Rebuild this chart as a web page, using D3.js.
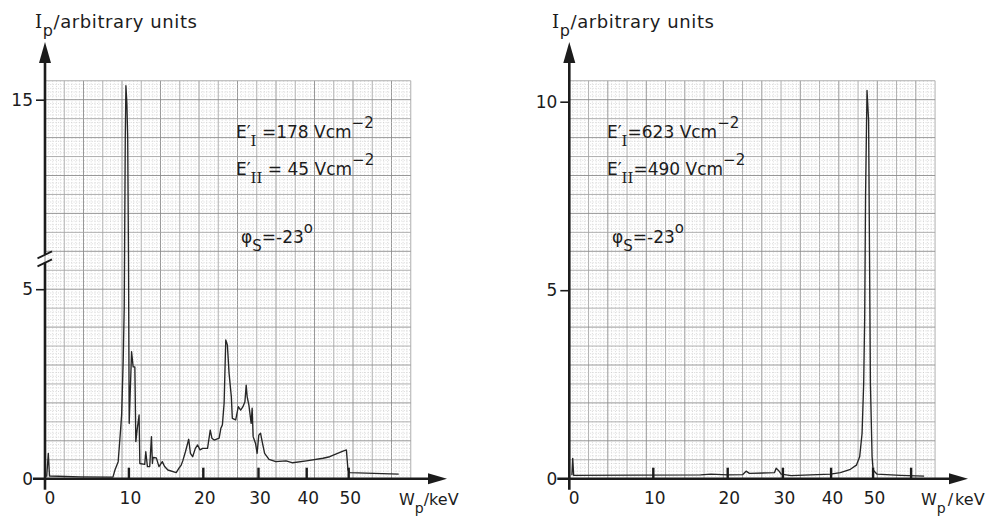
<!DOCTYPE html>
<html>
<head>
<meta charset="utf-8">
<script src="https://cdn.jsdelivr.net/npm/d3@7"></script>
<style>
  body{margin:0;background:#fff;}
  svg{display:block;}
  text{font-family:"DejaVu Sans",sans-serif;fill:#1c1c1c;}
</style>
</head>
<body>
<svg id="chart" width="992" height="516"></svg>
<script>
// energy scale of the spectrometer (not linear), knots in keV
var energyKnots = [0, 10, 20, 30, 40, 50, 60, 64];
var energyTicks = [0, 10, 20, 30, 40, 50];
var markTicksLeft = [10, 20, 30, 40, 50];
var markTicksRight = [10, 20, 30, 40, 50, 60];

var leftYTicks = [0, 5, 15];
var rightYTicks = [0, 5, 10];
var leftBreak = [5.8, 10.8];

var leftEnergy = [-0.2, 0, 0.15, 4, 8.02, 8.27, 8.67, 8.97, 9.1, 9.29, 9.42, 9.55, 9.63, 9.75, 9.85,
  9.95, 10.04, 10.36, 10.57, 10.8, 10.93, 11.1, 11.37, 11.47, 12.13, 12.27, 12.49, 12.8, 13.03, 13.16,
  13.24, 13.69, 14.04, 14.49, 14.8, 15.24, 16.36, 16.71, 17.03, 17.24, 17.6, 18.04, 18.27, 18.57, 18.93,
  19.24, 19.56, 19.91, 20.77, 21.26, 21.56, 21.97, 22.87, 23.18, 23.46, 23.77, 24.07, 24.36, 24.67, 25.08,
  25.26, 25.87, 26.34, 26.77, 27.18, 27.54, 27.77, 27.95, 28.26, 28.67, 28.85, 29.03, 29.46, 29.75, 30.06,
  30.42, 30.76, 31.27, 32.18, 33.59, 35.71, 37.1, 39.94, 43.88, 45.48, 48.64, 49.45, 49.83, 50.26, 63.4];
var leftIntensity = [0.05, 0.67, 0.07, 0.05, 0.04, 0.23, 0.45, 1.3, 1.7, 3.1, 4.5, 14.0, 15.37, 14.9, 14.0,
  6, 1.46, 3.35, 2.95, 2.95, 0.98, 1.28, 1.68, 0.4, 0.38, 0.71, 0.32, 0.32, 1.11, 0.4,
  0.56, 0.55, 0.32, 0.45, 0.32, 0.23, 0.16, 0.27, 0.36, 0.47, 0.71, 1.04, 0.67, 0.58, 0.8,
  0.89, 0.76, 0.8, 0.8, 1.28, 1.07, 1.02, 1.07, 1.33, 1.42, 1.99, 3.66, 3.53, 2.78, 2.16,
  1.59, 1.55, 1.9, 1.81, 1.9, 2.03, 2.47, 2.16, 1.94, 1.46, 1.86, 1.11, 0.93, 0.67, 1.15,
  1.2, 0.98, 0.67, 0.51, 0.45, 0.47, 0.42, 0.47, 0.54, 0.58, 0.73, 0.76, 0.23, 0.16, 0.12];

var rightEnergy = [-0.1, 0, 0.12, 16.36, 17.72, 20, 22.73, 23.33, 23.93, 28.47, 28.78, 29.2, 29.69, 31.69, 39.86,
  42.21, 44.6, 46.02, 46.8, 47.37, 47.76, 48.0, 48.2, 48.55, 48.93, 49.36, 49.76, 50, 51.05, 57.18, 63.7];
var rightIntensity = [0.09, 0.54, 0.09, 0.1, 0.12, 0.1, 0.11, 0.2, 0.14, 0.16, 0.28, 0.22, 0.12, 0.08, 0.12,
  0.16, 0.25, 0.36, 0.58, 1.2, 2.53, 4.3, 7.5, 10.3, 9.5, 2.53, 0.58, 0.23, 0.12, 0.09, 0.07];

var svg = d3.select("#chart");
svg.append("rect").attr("width", 992).attr("height", 516).attr("fill", "#fff");

var dispersion = [0, 80.6, 155, 210.2, 258.4, 300.4, 338.4, 352.5];
var baseY = 478.7;

function makeX(origin){
	return d3.scaleLinear().domain(energyKnots).range(dispersion.map(d => origin + d));
}

function drawPaper(g, x0, cols, rows){
	var cw = 19.25, ch = 18.95;
	var top = baseY - rows * ch, right = x0 + cols * cw;
	d3.range(cols * 5 + 1).forEach(function(i){
		var x = x0 + i * cw / 5;
		var l = g.append("line").attr("x1", x).attr("x2", x).attr("y1", top).attr("y2", baseY);
		if(i % 5 == 0){
			l.attr("stroke", i % 10 == 0 ? "#8c8c8c" : "#a6a6a6").attr("stroke-width", 0.9);
		}else{
			l.attr("stroke", "#c8c8c8").attr("stroke-width", 0.7).attr("stroke-dasharray", "1,1.6");
		}
	});
	d3.range(rows * 5 + 1).forEach(function(i){
		var y = baseY - i * ch / 5;
		var l = g.append("line").attr("y1", y).attr("y2", y).attr("x1", x0).attr("x2", right);
		if(i % 5 == 0){
			l.attr("stroke", i % 10 == 0 ? "#8c8c8c" : "#a6a6a6").attr("stroke-width", 0.9);
		}else{
			l.attr("stroke", "#c8c8c8").attr("stroke-width", 0.7).attr("stroke-dasharray", "1,1.6");
		}
	});
}

function arrowUp(g, x, tipY){
	g.append("path").attr("d", "M" + x + "," + tipY + "L" + (x - 6) + "," + (tipY + 21) + "L" + (x + 6) + "," + (tipY + 21) + "Z")
		.attr("fill", "#1c1c1c");
}
function arrowRight(g, tipX, y){
	g.append("path").attr("d", "M" + tipX + "," + y + "L" + (tipX - 19) + "," + (y - 5.5) + "L" + (tipX - 19) + "," + (y + 5.5) + "Z")
		.attr("fill", "#1c1c1c");
}

// rich text with sub/superscripts, parts: {t, s:"sub"|"sup", serif, dx}
function richText(g, x, y, parts, size){
	var t = g.append("text").attr("x", x).attr("y", y).style("font-size", size + "px");
	var cur = 0;
	parts.forEach(function(p){
		var off = p.s == "sub" ? 8 : (p.s == "sup" ? -10 : 0);
		var sp = t.append("tspan").attr("dy", off - cur).text(p.t);
		if(p.dx) sp.attr("dx", p.dx);
		if(p.s) sp.style("font-size", (size - 2) + "px");
		if(p.serif) sp.style("font-family", "'DejaVu Serif', serif");
		cur = off;
	});
	return t;
}

function drawPanel(opt){
	var g = svg.append("g");
	var x = makeX(opt.origin);
	var y = opt.y;
	drawPaper(g, opt.axisX, 19, 21);

	// curve
	var pts = opt.energy.map((e, i) => [e, opt.intensity[i]]);
	g.append("path").datum(pts)
		.attr("d", d3.line().x(d => x(d[0])).y(d => y(d[1])))
		.attr("fill", "none").attr("stroke", "#262626").attr("stroke-width", 1.35).attr("stroke-linejoin", "round");

	// x axis
	g.append("line").attr("x1", opt.axisX - 12).attr("x2", opt.arrowX - 15).attr("y1", baseY).attr("y2", baseY)
		.attr("stroke", "#1c1c1c").attr("stroke-width", 2.6);
	arrowRight(g, opt.arrowX, baseY);
	opt.marks.forEach(function(m){
		g.append("line").attr("x1", x(m)).attr("x2", x(m)).attr("y1", baseY).attr("y2", baseY - 11)
			.attr("stroke", "#1c1c1c").attr("stroke-width", 2.4);
	});
	var xa = g.append("g").attr("transform", "translate(0," + baseY + ")")
		.call(d3.axisBottom(x).tickValues(energyTicks).tickSize(0).tickFormat(d3.format("d")));
	xa.select(".domain").remove();
	xa.selectAll("text").attr("y", 13).attr("dx", 1).style("font-size", "17px").style("font-family", "'DejaVu Sans', sans-serif").attr("fill", "#1c1c1c");

	// y axis
	if(opt.breakAt){
		var yb = y(opt.breakAt[0]);
		g.append("line").attr("x1", opt.axisX).attr("x2", opt.axisX).attr("y1", 62).attr("y2", yb - 4.5)
			.attr("stroke", "#1c1c1c").attr("stroke-width", 2.6);
		g.append("line").attr("x1", opt.axisX).attr("x2", opt.axisX).attr("y1", yb + 3.5).attr("y2", baseY + 11)
			.attr("stroke", "#1c1c1c").attr("stroke-width", 2.6);
		[-4, 4].forEach(function(o){
			g.append("line").attr("x1", opt.axisX - 7.5).attr("x2", opt.axisX + 7).attr("y1", yb + o + 3.5).attr("y2", yb + o - 3.5)
				.attr("stroke", "#1c1c1c").attr("stroke-width", 1.8);
		});
	}else{
		g.append("line").attr("x1", opt.axisX).attr("x2", opt.axisX).attr("y1", 62).attr("y2", baseY + 11)
			.attr("stroke", "#1c1c1c").attr("stroke-width", 2.6);
	}
	arrowUp(g, opt.axisX, 42);
	var ya = g.append("g").attr("transform", "translate(" + opt.axisX + ",0)")
		.call(d3.axisLeft(y).tickValues(opt.yTicks).tickSize(9).tickPadding(3).tickFormat(d3.format("d")));
	ya.select(".domain").remove();
	ya.selectAll("line").attr("stroke", "#1c1c1c").attr("stroke-width", 1.6);
	ya.selectAll("text").style("font-size", "17px").style("font-family", "'DejaVu Sans', sans-serif").attr("fill", "#1c1c1c");

	// axis titles
	richText(g, opt.yLabelX, 28, [{t: "I", serif: true}, {t: "p", s: "sub"}, {t: "/arbitrary units"}], 18)
		.style("letter-spacing", "0.6px");
	richText(g, opt.wLabelX, 505, opt.wLabel, 16);

	// annotations
	var a = opt.ann;
	richText(g, a.x, 138, [{t: "E′"}, {t: "I", s: "sub", serif: true}, {t: a.e1}, {t: "−2", s: "sup"}], 17);
	richText(g, a.x, 175, [{t: "E′"}, {t: "II", s: "sub", serif: true}, {t: a.e2}, {t: "−2", s: "sup"}], 17);
	richText(g, a.x + 5, 243, [{t: "φ"}, {t: "S", s: "sub"}, {t: "=-23"}, {t: "o", s: "sup"}], 17);
}

var leftY = d3.scaleLinear()
	.domain([0, leftBreak[0], leftBreak[1], 16.5])
	.range([baseY, baseY - leftBreak[0] * 37.9, baseY - leftBreak[0] * 37.9, baseY - (leftBreak[0] + 16.5 - leftBreak[1]) * 37.9]);
var rightY = d3.scaleLinear().domain([0, 11]).range([baseY, baseY - 11 * 37.7]);

drawPanel({
	origin: 48.3, axisX: 45, arrowX: 447, y: leftY, yTicks: leftYTicks, breakAt: leftBreak,
	energy: leftEnergy, intensity: leftIntensity, marks: markTicksLeft,
	yLabelX: 35, wLabelX: 399, wLabel: [{t: "W"}, {t: "p", s: "sub"}, {t: "/keV"}],
	ann: {x: 236, e1: " =178 Vcm", e2: " = 45 Vcm"}
});
drawPanel({
	origin: 572.7, axisX: 569.3, arrowX: 968, y: rightY, yTicks: rightYTicks, breakAt: null,
	energy: rightEnergy, intensity: rightIntensity, marks: markTicksRight,
	yLabelX: 552, wLabelX: 921, wLabel: [{t: "W"}, {t: "p", s: "sub"}, {t: "/", dx: 2}, {t: "keV", dx: 2}],
	ann: {x: 607, e1: "=623 Vcm", e2: "=490 Vcm"}
});
</script>
</body>
</html>
